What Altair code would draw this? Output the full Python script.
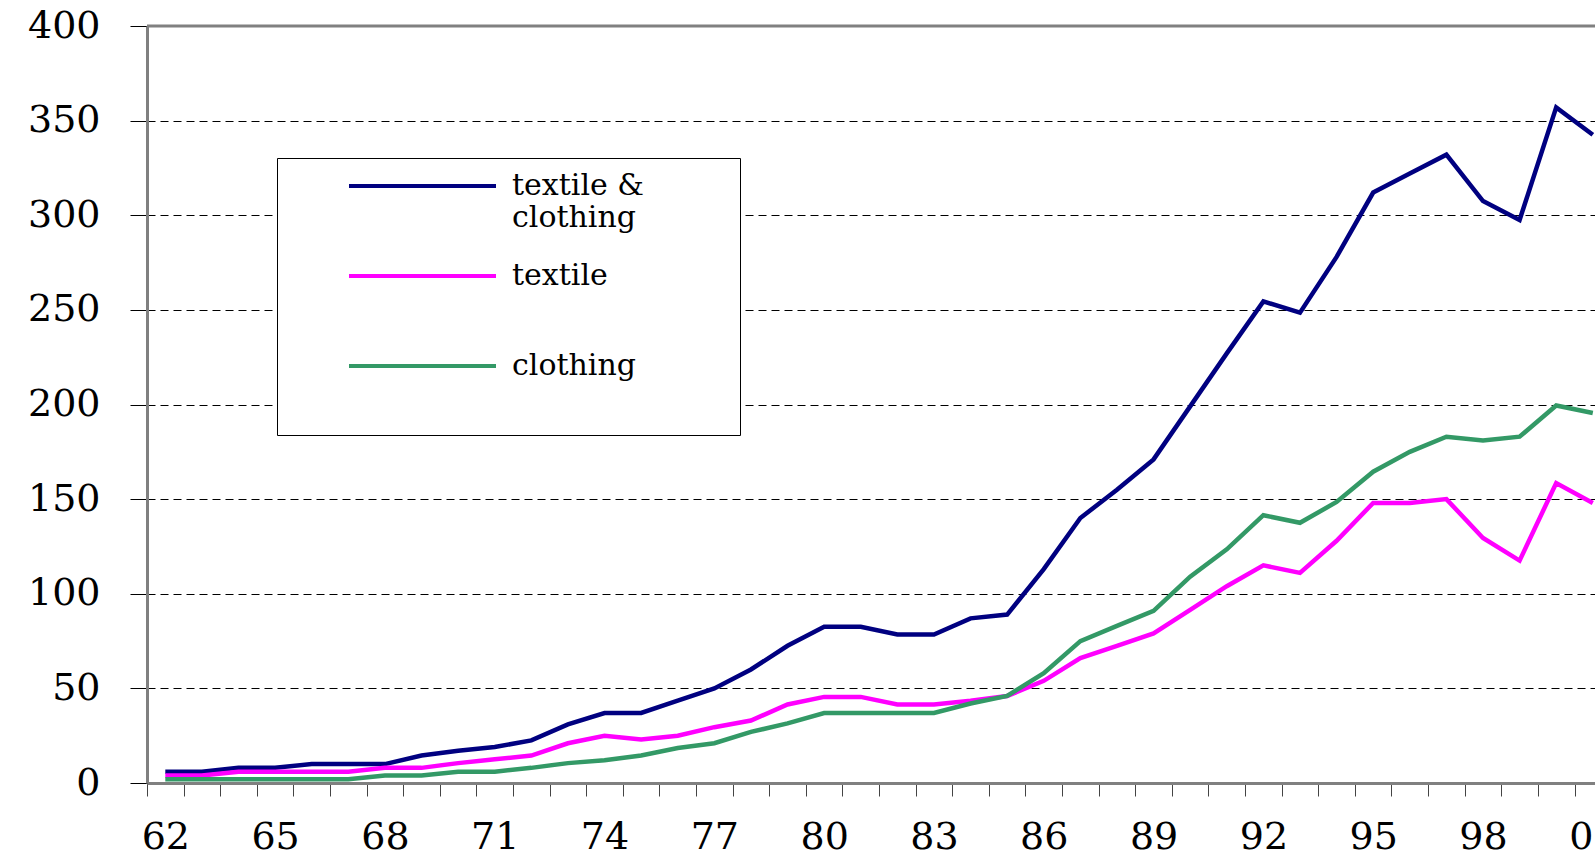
import json
import altair as alt
import pandas as pd

years = list(range(1962, 2002))
textile_clothing = [6, 6, 8, 8, 10, 10, 10, 14.5, 17, 19, 22.5, 31, 37, 37, 43.5, 50, 60, 72.5, 82.5, 82.5,
                    78.5, 78.5, 87, 89, 113, 140, 155, 171, 199, 227, 254.5, 248.5, 278, 312, 322, 332, 307.5, 297.5, 357, 342.5]
textile = [4, 4, 6, 6, 6, 6, 8, 8, 10.5, 12.5, 14.5, 21, 25, 23, 25, 29.5, 33, 41.5, 45.5, 45.5,
           41.5, 41.5, 43.5, 46, 54, 66, 72.5, 79, 91.5, 104, 115, 111, 128, 148, 148, 150, 129.5, 117.5, 158.5, 148]
clothing = [2, 2, 2, 2, 2, 2, 4, 4, 6, 6, 8, 10.5, 12, 14.5, 18.5, 21, 27, 31.5, 37, 37,
            37, 37, 42, 46, 58, 75, 83, 91, 109, 123.5, 141.5, 137.5, 148.5, 164.5, 175, 183, 181, 183, 199.5, 195.5]

series_names = ["textile & clothing", "textile", "clothing"]
series_colors = ["#000080", "#FF00FF", "#339966"]
x_tick_labels = ["62", "65", "68", "71", "74", "77", "80", "83", "86", "89", "92", "95", "98", "01"]
y_ticks = [0, 50, 100, 150, 200, 250, 300, 350, 400]

rows = []
for name, vals in zip(series_names, [textile_clothing, textile, clothing]):
    for i, (yr, v) in enumerate(zip(years, vals)):
        rows.append({"idx": i, "year": yr, "value": v, "series": name})
df = pd.DataFrame(rows)

W, H = 1448, 757
x_max = 39.06
band = W / (x_max + 0.5)

label_expr = f"datum.value % 3 === 0 ? {json.dumps(x_tick_labels)}[datum.value / 3] : ''"

lines = alt.Chart(df).mark_line(strokeWidth=4.5).encode(
    x=alt.X("idx:Q",
            scale=alt.Scale(domain=[-0.5, x_max], nice=False, zero=False),
            axis=alt.Axis(values=list(range(len(years))), labelExpr=label_expr, title=None,
                          grid=False, tickSize=13, tickColor="#444444", tickWidth=1,
                          tickOffset=-band / 2, labelOffset=band / 2,
                          domainColor="#808080", domainWidth=3,
                          labelFont="DejaVu Serif", labelFontSize=38, labelColor="black",
                          labelPadding=22, labelFlush=False, labelOverlap=False)),
    y=alt.Y("value:Q",
            scale=alt.Scale(domain=[0, 400], nice=False),
            axis=alt.Axis(values=y_ticks, title=None, grid=True, gridColor="black",
                          gridDash=[8, 5], gridWidth=1, tickSize=17, tickColor="black",
                          domainColor="#808080", domainWidth=3,
                          labelFont="DejaVu Serif", labelFontSize=38, labelColor="black",
                          labelPadding=30)),
    color=alt.Color("series:N",
                    scale=alt.Scale(domain=series_names, range=series_colors),
                    legend=alt.Legend(
                        orient="none", legendX=130, legendY=132, title=" ",
                        titleOrient="right", titleFont="DejaVu Serif", titleFontSize=146,
                        titlePadding=82, titleBaseline="top", titleLimit=400,
                        fillColor="white", strokeColor="black", padding=14,
                        symbolType="stroke", symbolSize=147 * 147, symbolStrokeWidth=4,
                        symbolOffset=56, labelOffset=14, clipHeight=28, gridAlign="all",
                        labelFont="DejaVu Serif", labelFontSize=30, labelColor="black",
                        labelLimit=500, rowPadding=28,
                        labelExpr="datum.label === 'textile & clothing' ? ['textile &', 'clothing'] : datum.label")),
)

top_rule = alt.Chart(pd.DataFrame({"v": [400]})).mark_rule(color="#808080", strokeWidth=3).encode(
    y=alt.Y("v:Q")
)

chart = alt.layer(lines, top_rule).properties(
    width=W, height=H,
    autosize=alt.AutoSizeParams(type="none"),
    padding={"left": 147, "top": 26, "right": 0, "bottom": 856 - 26 - H},
    background="white",
).configure_view(stroke=None)

chart.save("out.html", embed_options={"renderer": "svg", "actions": False})
